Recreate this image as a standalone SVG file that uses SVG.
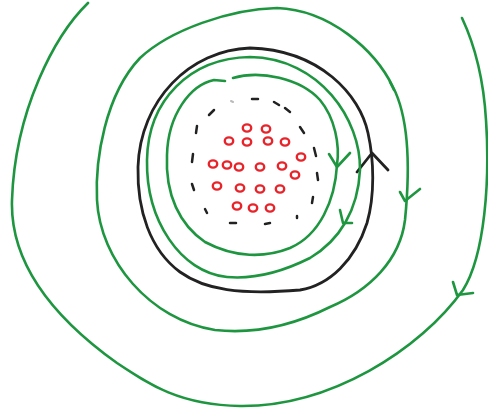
<svg xmlns="http://www.w3.org/2000/svg" width="488" height="409" viewBox="0 0 488 409">
<style>
.g{fill:none;stroke:#1e9640;stroke-width:2.6;stroke-linecap:round;stroke-linejoin:round}
.k{fill:none;stroke:#222;stroke-width:2.8;stroke-linecap:round;stroke-linejoin:round}
.d{fill:none;stroke:#222;stroke-width:2.5;stroke-linecap:round}
.r{fill:none;stroke:#e8242a;stroke-width:2.4}
</style>
<rect width="488" height="409" fill="#fff"/>
<g id="outer-spiral">
<path class="g" d="M88,3 C55,35 15,110 12,200 C10,260 50,315 117,363 C150,385 180,405 240,406 C330,407 420,350 463,290 C485,255 490,180 486,120 C483,70 470,35 462,18"/>
<path class="g" d="M453,282 L457,295 L473,293"/>
</g>
<g id="ring-2">
<path class="g" d="M277,8 C230,9 170,30 140,58 C105,95 95,160 97,200 C100,260 150,320 215,330 C260,335 300,322 330,307 C370,290 400,260 405,220 C410,170 410,120 393,87 C375,50 330,10 277,8Z"/>
<path class="g" d="M390,82 L394,90"/>
<path class="g" d="M400,192 L405,201 L420,189"/>
</g>
<g id="black-ring">
<path class="k" d="M250,48 C190,50 140,100 138,167 C137,210 150,250 180,272 C205,290 240,295 300,290 C330,285 355,260 367,223 C375,195 374,160 368,133 C360,95 320,50 250,48Z"/>
<path class="k" d="M357,172 L372,153 L388,170"/>
</g>
<g id="ring-3">
<path class="g" d="M250,57 C190,58 148,100 147,160 C146,220 180,272 227,277 C260,280 290,268 310,258 C340,240 358,210 360,170 C361,120 320,58 250,57Z"/>
<path class="g" d="M340,210 L343,223 L352,223"/>
</g>
<g id="ring-4">
<path class="g" d="M233,78 C260,70 300,78 320,100 C335,118 340,145 337,165 C335,200 320,235 290,248 C265,258 235,258 205,242 C180,225 165,195 167,155 C168,115 190,85 214,80 L225,81"/>
<path class="g" d="M329,154 L337,167 L350,153"/>
</g>
<g id="dashed-circle">
<path class="d" d="M252,99 L258,99 M274,102 L279,105 M285,108 L290,112 M209,115 L214,110 M197,126 L196,133 M300,127 L304,133 M193,154 L192,162 M314,148 L316,156 M317,173 L318,180 M192,184 L194,190 M313,197 L312,203 M205,209 L207,213 M297,216 L297,218 M230,223 L236,223 M265,224 L270,223"/>
<path d="M231,101 L233,102" stroke="#bbb" stroke-width="2" stroke-linecap="round"/>
</g>
<g id="red-dots">
<ellipse class="r" cx="247" cy="128" rx="4.2" ry="3.6"/>
<ellipse class="r" cx="266" cy="129" rx="4.2" ry="3.6"/>
<ellipse class="r" cx="229" cy="141" rx="4.2" ry="3.6"/>
<ellipse class="r" cx="247" cy="142" rx="4.2" ry="3.6"/>
<ellipse class="r" cx="268" cy="141" rx="4.2" ry="3.6"/>
<ellipse class="r" cx="285" cy="142" rx="4.2" ry="3.6"/>
<ellipse class="r" cx="301" cy="157" rx="4.2" ry="3.6"/>
<ellipse class="r" cx="213" cy="164" rx="4.2" ry="3.6"/>
<ellipse class="r" cx="227" cy="165" rx="4.2" ry="3.6"/>
<ellipse class="r" cx="239" cy="167" rx="4.2" ry="3.6"/>
<ellipse class="r" cx="260" cy="167" rx="4.2" ry="3.6"/>
<ellipse class="r" cx="282" cy="166" rx="4.2" ry="3.6"/>
<ellipse class="r" cx="295" cy="175" rx="4.2" ry="3.6"/>
<ellipse class="r" cx="217" cy="186" rx="4.2" ry="3.6"/>
<ellipse class="r" cx="240" cy="188" rx="4.2" ry="3.6"/>
<ellipse class="r" cx="260" cy="189" rx="4.2" ry="3.6"/>
<ellipse class="r" cx="280" cy="189" rx="4.2" ry="3.6"/>
<ellipse class="r" cx="237" cy="206" rx="4.2" ry="3.6"/>
<ellipse class="r" cx="253" cy="208" rx="4.2" ry="3.6"/>
<ellipse class="r" cx="270" cy="208" rx="4.2" ry="3.6"/>
</g>
</svg>
